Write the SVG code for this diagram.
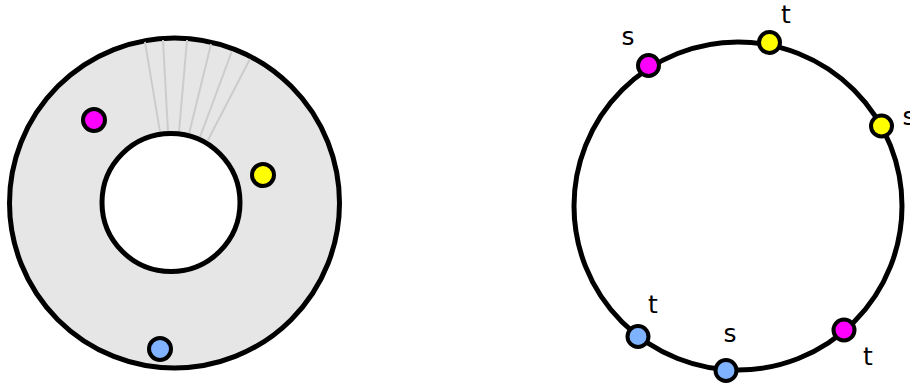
<svg xmlns="http://www.w3.org/2000/svg" width="910" height="387" viewBox="0 0 910 387">
<style>
.ring{stroke:#000;stroke-width:5}
.dot{stroke:#000;stroke-width:4}
.m{fill:#ff00ff}.y{fill:#ffff00}.b{fill:#80b3ff}
.ray{stroke:#cccccc;stroke-width:2;fill:none}
.lbl{font-family:"DejaVu Sans",sans-serif;font-size:25px;fill:#000;text-anchor:middle}
</style>
<rect width="910" height="387" fill="#fff"/>
<g id="annulus">
<circle class="ring" cx="174.5" cy="203" r="165" fill="#e6e6e6"/>
</g>
<g id="connectors">
<line class="ray" x1="145" y1="42" x2="160" y2="132"/>
<line class="ray" x1="163" y1="40" x2="168" y2="132"/>
<line class="ray" x1="187" y1="40" x2="179" y2="132"/>
<line class="ray" x1="211" y1="44" x2="189" y2="134"/>
<line class="ray" x1="232" y1="51" x2="200" y2="137"/>
<line class="ray" x1="250" y1="59" x2="208" y2="140"/>
</g>
<g id="hole">
<circle class="ring" cx="171" cy="202.5" r="69" fill="#fff"/>
</g>
<g id="left-dot-m"><circle class="dot m" cx="94" cy="120" r="11"/></g>
<g id="left-dot-y"><circle class="dot y" cx="263" cy="175" r="11"/></g>
<g id="left-dot-b"><circle class="dot b" cx="160" cy="349" r="11"/></g>
<g id="circle">
<circle class="ring" cx="738" cy="206" r="164" fill="none"/>
</g>
<g id="r-s1"><circle class="dot m" cx="648.5" cy="65.5" r="10.5"/><text class="lbl" x="628" y="45">s</text></g>
<g id="r-t1"><circle class="dot y" cx="769.5" cy="42.5" r="10.5"/><text class="lbl" x="786" y="23">t</text></g>
<g id="r-s2"><circle class="dot y" cx="881.5" cy="126" r="10.5"/><text class="lbl" x="909" y="125">s</text></g>
<g id="r-t3"><circle class="dot m" cx="844" cy="330" r="10.5"/><text class="lbl" x="868" y="365">t</text></g>
<g id="r-s3"><circle class="dot b" cx="726" cy="370.5" r="10.5"/><text class="lbl" x="730" y="342">s</text></g>
<g id="r-t2"><circle class="dot b" cx="638" cy="336.5" r="10.5"/><text class="lbl" x="653" y="313">t</text></g>
</svg>
